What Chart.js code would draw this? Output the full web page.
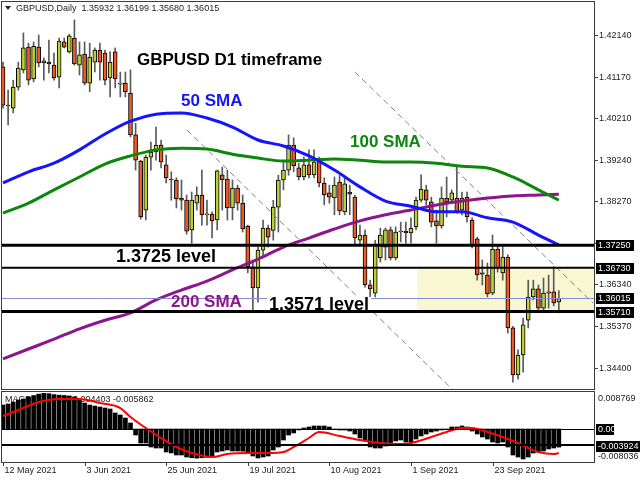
<!DOCTYPE html>
<html><head><meta charset="utf-8">
<script src="https://cdn.jsdelivr.net/npm/chart.js"></script>
<style>
html,body{margin:0;padding:0;background:#fff;}
#wrap{position:relative;width:640px;height:480px;overflow:hidden;background:#fff;}
canvas{position:absolute;left:0;}
#c1{top:0;} #c2{top:391px;}
</style></head><body>
<div id="wrap"><canvas id="c1" width="640" height="391"></canvas><canvas id="c2" width="640" height="89"></canvas></div>
<script>
// ---------------- DATA ----------------
const headerText = 'GBPUSD,Daily  1.35932 1.36199 1.35680 1.36015';
const macdHeader = 'MACD(12,26,9) -0.004403 -0.005862';
const dateTickIndex = [0,16,32,48,64,80,96];
const dateTickLabels = ['12 May 2021','3 Jun 2021','25 Jun 2021','19 Jul 2021','10 Aug 2021','1 Sep 2021','23 Sep 2021'];
const priceTicks = [1.42140,1.41170,1.40210,1.39240,1.38270,1.37300,1.36340,1.35370,1.34400];
const priceRange = [1.33887, 1.42908];

const open = [1.4140,1.4051,1.4044,1.4093,1.4133,1.4186,1.4112,1.4186,1.4149,1.4151,
1.4144,1.4116,1.4198,1.4175,1.4207,1.4144,1.4170,1.4102,1.4151,1.4179,
1.4172,1.4114,1.4175,1.4100,1.4102,1.4079,1.3982,1.3921,1.3807,1.3930,
1.3942,1.3958,1.3912,1.3879,1.3877,1.3835,1.3830,1.3761,1.3823,1.3842,
1.3796,1.3798,1.3784,1.3889,1.3879,1.3812,1.3858,1.3823,1.3770,1.3675,
1.3626,1.3714,1.3765,1.3760,1.3814,1.3877,1.3900,1.3958,1.3905,1.3884,
1.3912,1.3889,1.3923,1.3870,1.3847,1.3835,1.3872,1.3803,1.3849,1.3837,
1.3737,1.3749,1.3633,1.3614,1.3696,1.3721,1.3761,1.3696,1.3756,1.3758,
1.3754,1.3768,1.3830,1.3854,1.3826,1.3782,1.3770,1.3835,1.3830,1.3835,
1.3807,1.3837,1.3784,1.3740,1.3661,1.3656,1.3614,1.3716,1.3661,1.3698,
1.3533,1.3424,1.3470,1.3551,1.3605,1.3624,1.3579,1.3617,1.3617,1.35932];
const high = [1.4151,1.4086,1.4109,1.4151,1.4219,1.4195,1.4198,1.4214,1.4161,1.4202,
1.4172,1.4207,1.4207,1.4216,1.4249,1.4198,1.4198,1.4195,1.4184,1.4195,
1.4179,1.4175,1.4184,1.4128,1.4128,1.4133,1.4009,1.3923,1.3935,1.3965,
1.4000,1.3970,1.3935,1.3896,1.3882,1.3877,1.3842,1.3849,1.3861,1.3900,
1.3830,1.3803,1.3900,1.3907,1.3900,1.3877,1.3865,1.3842,1.3772,1.3691,
1.3721,1.3784,1.3772,1.3830,1.3888,1.3919,1.3982,1.3975,1.3916,1.3930,
1.3947,1.3947,1.3930,1.3882,1.3865,1.3884,1.3888,1.3882,1.3865,1.3842,
1.3772,1.3761,1.3644,1.3737,1.3765,1.3765,1.3768,1.3768,1.3779,1.3779,
1.3789,1.3837,1.3889,1.3865,1.3837,1.3807,1.3861,1.3884,1.3854,1.3912,
1.3849,1.3849,1.3789,1.3744,1.3691,1.3684,1.3749,1.3726,1.3721,1.3703,
1.3537,1.3482,1.3556,1.3644,1.3644,1.3633,1.3649,1.3656,1.3675,1.36199];
const low = [1.4044,1.4005,1.4033,1.4086,1.4126,1.4098,1.4105,1.4140,1.4109,1.4126,
1.4109,1.4091,1.4184,1.4172,1.4144,1.4121,1.4098,1.4082,1.4128,1.4109,
1.4098,1.4070,1.4091,1.4070,1.4070,1.3977,1.3900,1.3786,1.3784,1.3900,
1.3923,1.3905,1.3870,1.3830,1.3812,1.3807,1.3751,1.3730,1.3807,1.3772,
1.3772,1.3742,1.3761,1.3807,1.3784,1.3784,1.3807,1.3756,1.3661,1.3575,
1.3593,1.3698,1.3721,1.3737,1.3756,1.3854,1.3888,1.3896,1.3877,1.3877,
1.3882,1.3882,1.3861,1.3819,1.3823,1.3796,1.3796,1.3796,1.3796,1.3725,
1.3725,1.3628,1.3598,1.3605,1.3686,1.3691,1.3691,1.3691,1.3733,1.3730,
1.3730,1.3761,1.3826,1.3819,1.3768,1.3730,1.3765,1.3791,1.3823,1.3800,
1.3796,1.3779,1.3719,1.3644,1.3633,1.3605,1.3610,1.3663,1.3644,1.3521,
1.3407,1.3414,1.3430,1.3533,1.3598,1.3570,1.3570,1.3579,1.3584,1.35680];
const close = [1.4051,1.4049,1.4093,1.4137,1.4184,1.4109,1.4188,1.4149,1.4154,1.4147,
1.4114,1.4200,1.4186,1.4212,1.4147,1.4168,1.4102,1.4163,1.4179,1.4151,
1.4109,1.4151,1.4112,1.4102,1.4082,1.3982,1.3923,1.3791,1.3930,1.3942,
1.3958,1.3919,1.3882,1.3877,1.3833,1.3830,1.3758,1.3830,1.3842,1.3796,
1.3798,1.3782,1.3898,1.3877,1.3812,1.3858,1.3823,1.3763,1.3675,1.3626,
1.3714,1.3765,1.3744,1.3814,1.3877,1.3900,1.3958,1.3910,1.3884,1.3912,
1.3889,1.3919,1.3870,1.3842,1.3837,1.3865,1.3805,1.3868,1.3844,1.3742,
1.3749,1.3633,1.3624,1.3726,1.3749,1.3761,1.3696,1.3756,1.3758,1.3754,
1.3765,1.3830,1.3856,1.3830,1.3779,1.3770,1.3835,1.3826,1.3847,1.3803,
1.3835,1.3791,1.3726,1.3656,1.3658,1.3612,1.3716,1.3672,1.3698,1.3533,
1.3424,1.3470,1.3540,1.3605,1.3624,1.3579,1.3614,1.3614,1.3591,1.36015];

const smaIndex = [0,5,10,15,20,25,30,35,40,45,50,55,60,65,70,75,80,85,90,95,100,105,109];
const sma50  = [1.3870,1.3896,1.3916,1.3947,1.3984,1.4014,1.4030,1.4033,1.4021,1.4000,1.3970,1.3956,1.3933,1.3900,1.3861,1.3828,1.3816,1.3803,1.3803,1.3789,1.3779,1.3749,1.3726];
const sma100 = [1.3800,1.3823,1.3854,1.3884,1.3914,1.3933,1.3947,1.3951,1.3949,1.3937,1.3928,1.3921,1.3923,1.3926,1.3923,1.3919,1.3919,1.3916,1.3909,1.3905,1.3884,1.3854,1.3830];
const sma200 = [1.3461,1.3484,1.3507,1.3531,1.3551,1.3568,1.3598,1.3621,1.3642,1.3668,1.3693,1.3721,1.3742,1.3763,1.3782,1.3796,1.3807,1.3819,1.3828,1.3835,1.3840,1.3842,1.3844];

const trendLine1 = [[69.0,1.4128],[115.7,1.3591]];
const trendLine2 = [[36.1,1.3993],[88.2,1.3389]];
const levelValues = [1.37250, 1.36730, 1.35710];
const lastPrice = 1.36015;
const zoneStartIndex = 81.2;
const zoneRange = [1.36730, 1.35710];

const macdMain = [0.00584,0.00609,0.00657,0.00706,0.00731,0.00779,0.00815,0.00850,0.00877,0.00860,
0.00838,0.00825,0.00815,0.00805,0.00780,0.00706,0.00633,0.00584,0.00560,0.00536,
0.00511,0.00487,0.00390,0.00341,0.00268,0.00146,-0.00146,-0.00341,-0.00341,-0.00438,
-0.00463,-0.00463,-0.00560,-0.00584,-0.00633,-0.00633,-0.00682,-0.00700,-0.00710,-0.00700,
-0.00690,-0.00670,-0.00560,-0.00536,-0.00511,-0.00536,-0.00536,-0.00540,-0.00560,-0.00657,
-0.00706,-0.00682,-0.00657,-0.00511,-0.00438,-0.00268,-0.00146,-0.00097,-0.00024,0.00024,
0.00049,0.00073,0.00073,0.00073,0.00049,-0.00005,-0.00024,-0.00024,-0.00049,-0.00122,
-0.00219,-0.00292,-0.00438,-0.00463,-0.00463,-0.00414,-0.00341,-0.00292,-0.00268,-0.00317,
-0.00317,-0.00244,-0.00170,-0.00122,-0.00073,-0.00049,-0.00024,-0.00005,0.00049,0.00049,
0.00073,0.00049,-0.00049,-0.00122,-0.00195,-0.00244,-0.00317,-0.00341,-0.00317,-0.00438,
-0.00633,-0.00682,-0.00730,-0.00682,-0.00584,-0.00560,-0.00536,-0.00487,-0.00463,-0.004403];
const signalIndex = [0,3,7,11,15,19,23,25,28,31,34,37,41,44,48,52,55,57,60,62,66,70,74,78,80,84,87,90,92,95,98,101,103,105,108,109];
const signalValues = [0.00317,0.00463,0.00657,0.00731,0.00731,0.00633,0.00511,0.00292,0.00024,-0.00219,
-0.00438,-0.00584,-0.00682,-0.00609,-0.00584,-0.00584,-0.00560,-0.00438,-0.00219,-0.00073,
-0.00170,-0.00268,-0.00341,-0.00365,-0.00341,-0.00195,-0.00073,0.00024,0.00024,-0.00073,
-0.00195,-0.00341,-0.00463,-0.00560,-0.00609,-0.005862];
const macdRange = [-0.008036, 0.008769];
const macdLevelValues = [0, -0.003924];

// ---------------- STYLE / LAYOUT ----------------
const FONT = '"Liberation Sans", Arial, sans-serif';
const BULL = '#bccf3a', BEAR = '#ec5b24';
const levelWidths = [3, 2, 3];
const notes = [
  {text:'GBPUSD D1 timeframe', color:'#000000', size:17, x:137, y:65},
  {text:'50 SMA', color:'#1414ff', size:17, x:181, y:106},
  {text:'100 SMA', color:'#0b870b', size:17, x:350, y:147},
  {text:'1.3725 level', color:'#000000', size:18, x:116, y:262},
  {text:'200 SMA', color:'#8c168c', size:17, x:171, y:307},
  {text:'1.3571 level', color:'#000000', size:18, x:269, y:310, bg:'#ffffff'}
];
const X_MIN = -0.2, X_MAX = 115.9;

function labelBox(ctx, text, x, y, w) {
  ctx.fillStyle = '#000';
  ctx.fillRect(x, Math.round(y) - 5, w, 11);
  ctx.fillStyle = '#fff';
  ctx.textAlign = 'left'; ctx.textBaseline = 'middle';
  ctx.fillText(text, x + 2, Math.round(y) + 0.5);
}

const priceDecor = {
  id: 'priceDecor',
  beforeDatasetsDraw(chart) {
    const {ctx, chartArea: a, scales: {x, y}} = chart;
    ctx.save();
    const x0 = x.getPixelForValue(zoneStartIndex);
    const y0 = y.getPixelForValue(zoneRange[0]), y1 = y.getPixelForValue(zoneRange[1]);
    ctx.fillStyle = '#f9f7d2';
    ctx.fillRect(x0, y0, a.right - x0, y1 - y0);
    ctx.restore();
  },
  afterDatasetsDraw(chart) {
    const {ctx, chartArea: a, scales: {x, y}} = chart;
    ctx.save();
    // last price line
    let yp = Math.round(y.getPixelForValue(lastPrice)) + 0.5;
    ctx.strokeStyle = '#8a8ad4'; ctx.lineWidth = 1;
    ctx.beginPath(); ctx.moveTo(a.left, yp); ctx.lineTo(a.right, yp); ctx.stroke();
    // horizontal levels
    levelValues.forEach((v, k) => {
      const yy = y.getPixelForValue(v);
      ctx.strokeStyle = '#000'; ctx.lineWidth = levelWidths[k];
      ctx.beginPath(); ctx.moveTo(a.left, yy); ctx.lineTo(a.right, yy); ctx.stroke();
    });
    // text notes
    notes.forEach(n => {
      ctx.font = 'bold ' + n.size + 'px ' + FONT;
      ctx.textAlign = 'left'; ctx.textBaseline = 'alphabetic';
      if (n.bg) {
        const w = ctx.measureText(n.text).width;
        ctx.fillStyle = n.bg;
        ctx.fillRect(n.x - 2, n.y - 13, w + 4, 13);
      }
      ctx.fillStyle = n.color;
      ctx.fillText(n.text, n.x, n.y);
    });
    ctx.restore();
  },
  afterDraw(chart) {
    const {ctx, chartArea: a, scales: {y}} = chart;
    ctx.save();
    // frame
    ctx.strokeStyle = '#3c3c3c'; ctx.lineWidth = 1;
    ctx.strokeRect(1.5, 1.5, a.right - 1, 388);
    // header
    ctx.fillStyle = '#222';
    ctx.beginPath(); ctx.moveTo(5, 6); ctx.lineTo(11, 6); ctx.lineTo(8, 10); ctx.closePath(); ctx.fill();
    ctx.font = '9px ' + FONT; ctx.textAlign = 'left'; ctx.textBaseline = 'middle';
    ctx.fillText(headerText, 16, 9);
    // price axis
    priceTicks.forEach(v => {
      const yy = Math.round(y.getPixelForValue(v)) + 0.5;
      ctx.strokeStyle = '#3c3c3c';
      ctx.beginPath(); ctx.moveTo(a.right, yy); ctx.lineTo(a.right + 4, yy); ctx.stroke();
      ctx.fillStyle = '#222';
      ctx.fillText(v.toFixed(5), a.right + 5, yy);
    });
    // level boxes
    ctx.font = '9px ' + FONT;
    levelValues.concat([lastPrice]).forEach(v => {
      labelBox(ctx, v.toFixed(5), a.right + 2, y.getPixelForValue(v), 38);
    });
    ctx.restore();
  }
};

const macdDecor = {
  id: 'macdDecor',
  beforeDatasetsDraw(chart) {
    const {ctx} = chart;
    ctx.save();
    ctx.font = '9px ' + FONT; ctx.fillStyle = '#222';
    ctx.textAlign = 'left'; ctx.textBaseline = 'middle';
    ctx.fillText(macdHeader, 5, 9);
    ctx.restore();
  },
  afterDatasetsDraw(chart) {
    const {ctx, chartArea: a, scales: {y}} = chart;
    ctx.save();
    macdLevelValues.forEach((v, k) => {
      const yy = Math.round(y.getPixelForValue(v)) + (k === 0 ? 0.5 : 0);
      ctx.strokeStyle = '#000'; ctx.lineWidth = k === 0 ? 1 : 2;
      ctx.beginPath(); ctx.moveTo(a.left, yy); ctx.lineTo(a.right, yy); ctx.stroke();
    });
    ctx.restore();
  },
  afterDraw(chart) {
    const {ctx, chartArea: a, scales: {x, y}} = chart;
    ctx.save();
    ctx.strokeStyle = '#3c3c3c'; ctx.lineWidth = 1;
    ctx.strokeRect(1.5, 0.5, a.right - 1, a.bottom);
    ctx.font = '9px ' + FONT; ctx.fillStyle = '#222';
    ctx.textAlign = 'left'; ctx.textBaseline = 'middle';
    ctx.fillText(macdRange[1].toFixed(6), a.right + 4, y.getPixelForValue(macdRange[1]) + 6);
    ctx.fillText(macdRange[0].toFixed(6), a.right + 4, y.getPixelForValue(macdRange[0]) - 5);
    labelBox(ctx, '0.00', a.right + 2, y.getPixelForValue(0), 18);
    labelBox(ctx, macdLevelValues[1].toFixed(6), a.right + 2, y.getPixelForValue(macdLevelValues[1]) + 1, 44);
    // date axis
    dateTickIndex.forEach((k, j) => {
      const xx = Math.round(x.getPixelForValue(k)) + 0.5;
      ctx.strokeStyle = '#3c3c3c';
      ctx.beginPath(); ctx.moveTo(xx, a.bottom); ctx.lineTo(xx, a.bottom + 4); ctx.stroke();
      ctx.fillStyle = '#222';
      ctx.fillText(dateTickLabels[j], xx + 1, a.bottom + 9);
    });
    ctx.restore();
  }
};

const idx = open.map((_, i) => i);
const pts = (ix, vals) => ix.map((k, j) => ({x: k, y: vals[j]}));
const baseOpts = (yr, pad) => ({
  responsive: false, animation: false, devicePixelRatio: 1, events: [],
  layout: {padding: pad},
  plugins: {legend: {display: false}, tooltip: {enabled: false}},
  scales: {
    x: {type: 'linear', display: false, min: X_MIN, max: X_MAX, offset: false},
    y: {type: 'linear', display: false, min: yr[0], max: yr[1]}
  }
});

new Chart(document.getElementById('c1'), {
  type: 'bar',
  data: {datasets: [
    {type: 'line', label: '50 SMA', data: pts(smaIndex, sma50), borderColor: '#1414ff', borderWidth: 3, pointRadius: 0, cubicInterpolationMode: 'monotone', order: 1},
    {type: 'line', label: '100 SMA', data: pts(smaIndex, sma100), borderColor: '#0b870b', borderWidth: 3, pointRadius: 0, cubicInterpolationMode: 'monotone', order: 1},
    {type: 'line', label: '200 SMA', data: pts(smaIndex, sma200), borderColor: '#8c168c', borderWidth: 3, pointRadius: 0, cubicInterpolationMode: 'monotone', order: 1},
    {type: 'line', label: 'trend1', data: trendLine1.map(p => ({x: p[0], y: p[1]})), borderColor: '#808080', borderWidth: 1, borderDash: [6, 4], pointRadius: 0, order: 2},
    {type: 'line', label: 'trend2', data: trendLine2.map(p => ({x: p[0], y: p[1]})), borderColor: '#808080', borderWidth: 1, borderDash: [6, 4], pointRadius: 0, order: 2},
    {label: 'body', data: idx.map(i => ({x: i, y: [open[i], close[i]]})), backgroundColor: idx.map(i => close[i] >= open[i] ? BULL : BEAR), borderColor: '#000', borderWidth: 1, borderSkipped: false, barThickness: 4, minBarLength: 1, grouped: false, order: 4},
    {label: 'wick', data: idx.map(i => ({x: i, y: [low[i], high[i]]})), backgroundColor: '#5a5a5a', borderWidth: 0, barThickness: 1, grouped: false, order: 5}
  ]},
  options: baseOpts(priceRange, {left: 2, top: 2, right: 46, bottom: 1}),
  plugins: [priceDecor]
});

new Chart(document.getElementById('c2'), {
  type: 'bar',
  data: {datasets: [
    {type: 'line', label: 'Signal', data: pts(signalIndex, signalValues), borderColor: '#ff0000', borderWidth: 2, pointRadius: 0, cubicInterpolationMode: 'monotone', order: 1},
    {label: 'MACD', data: idx.map(i => ({x: i, y: macdMain[i]})), backgroundColor: '#000', borderWidth: 0, barThickness: 4, grouped: false, order: 2}
  ]},
  options: baseOpts(macdRange, {left: 2, top: 2, right: 46, bottom: 18}),
  plugins: [macdDecor]
});
</script>
</body></html>
